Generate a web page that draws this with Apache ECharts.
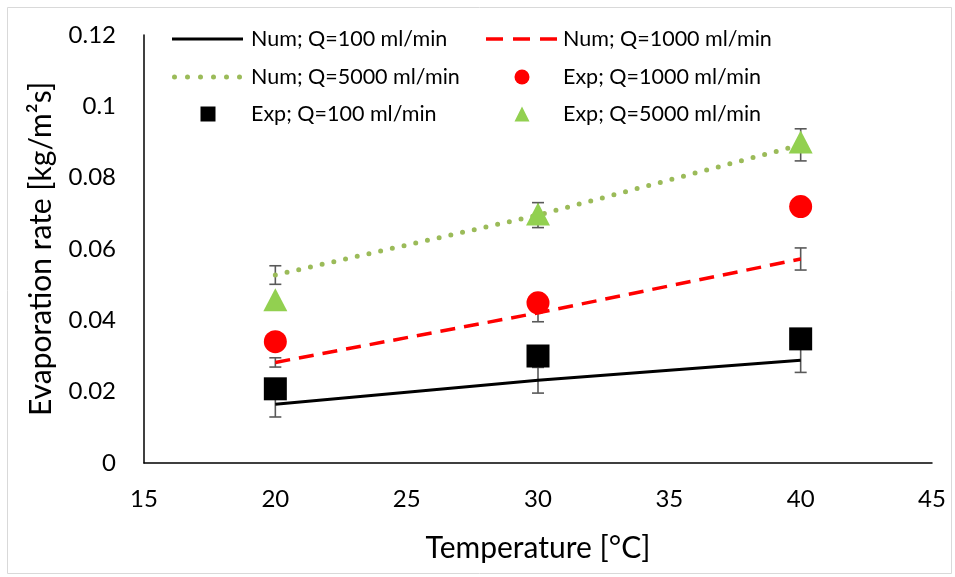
<!DOCTYPE html>
<html>
<head>
<meta charset="utf-8">
<script src="https://cdn.jsdelivr.net/npm/echarts@6/dist/echarts.min.js"></script>
<style>
  html, body { margin: 0; padding: 0; background: #fff; }
  #chart { width: 955px; height: 577px; }
</style>
</head>
<body>
<div id="chart"></div>
<script>
// Temperatures of the measurements [°C]
const temps = [20, 30, 40];

// Numerical evaporation rates [kg/m²s]
const numQ100 = [0.0165, 0.0232, 0.0288];
const numQ1000 = [0.0282, 0.0421, 0.0572];
const numQ5000 = [0.0527, 0.0695, 0.0892];

// Error half-widths shown on the numerical curves
const errQ100 = [0.0036, 0.0036, 0.0034];
const errQ1000 = [0.0013, 0.0025, 0.0031];
const errQ5000 = [0.0026, 0.0035, 0.0045];

// Experimental evaporation rates [kg/m²s]
const expQ100 = [0.0208, 0.0300, 0.0348];
const expQ1000 = [0.0340, 0.0449, 0.0719];
const expQ5000 = [0.0458, 0.0698, 0.0900];

// Axis ticks
const xTicks = [15, 20, 25, 30, 35, 40, 45];
const yTicks = [0, 0.02, 0.04, 0.06, 0.08, 0.1, 0.12];

const FONT = 'Lato';
const pairs = (ys) => temps.map((t, i) => [t, ys[i]]);
const bars = (ys, es) => temps.map((t, i) => [t, ys[i] - es[i], ys[i] + es[i]]);

function errorBarItem(params, api) {
  const x = api.value(0);
  const lo = api.coord([x, api.value(1)]);
  const hi = api.coord([x, api.value(2)]);
  const half = 6;
  const style = { stroke: '#595959', lineWidth: 1.6 };
  return {
    type: 'group',
    children: [
      { type: 'line', shape: { x1: lo[0], y1: lo[1], x2: hi[0], y2: hi[1] }, style },
      { type: 'line', shape: { x1: lo[0] - half, y1: lo[1], x2: lo[0] + half, y2: lo[1] }, style },
      { type: 'line', shape: { x1: hi[0] - half, y1: hi[1], x2: hi[0] + half, y2: hi[1] }, style }
    ]
  };
}

// Legend swatches: solid, dashed and dotted strokes as paths
const ICON_SOLID = 'path://M0,0H71V3H0Z';
const ICON_DASHED = 'path://M0,0h17v3.5h-17z M27,0h17v3.5h-17z M54,0h17v3.5h-17z';
const ICON_DOTTED = 'path://' + [0, 13, 26, 39, 52, 65]
  .map((x) => `M${x},2.5a2.5,2.5 0 1 0 5,0a2.5,2.5 0 1 0 -5,0`).join(' ');

const legendFont = { fontFamily: FONT, fontSize: 21.5, color: '#000' };
const rowMid = [38, 76, 113];
const colLeft = [172, 486];
const colText = [251, 563];
const ROW_OFFSET = 10;

function lineLegend(name, col, row, icon, color, h, w) {
  return {
    data: [{ name, icon, itemStyle: { color } }],
    left: colLeft[col], top: rowMid[row] - ROW_OFFSET, padding: 0,
    itemWidth: w, itemHeight: h, selectedMode: false,
    textStyle: Object.assign({ padding: [0, 0, 0, colText[col] - colLeft[col] - w - 5] }, legendFont)
  };
}
function markerLegend(name, col, row, icon, color, centerX) {
  const s = 15;
  const left = centerX - s / 2;
  return {
    data: [{ name, icon, itemStyle: { color } }],
    left, top: rowMid[row] - ROW_OFFSET, padding: 0,
    itemWidth: s, itemHeight: s, selectedMode: false,
    textStyle: Object.assign({ padding: [0, 0, 0, colText[col] - left - s - 5] }, legendFont)
  };
}

const option = {
  animation: false,
  backgroundColor: '#fff',
  graphic: [{
    type: 'rect', left: 5, top: 5, z: -1,
    shape: { width: 944, height: 566 },
    style: { fill: 'none', stroke: '#d9d9d9', lineWidth: 1 }
  }],
  grid: { left: 144, right: 23, top: 35, bottom: 114, containLabel: false },
  legend: [
    lineLegend('Num; Q=100 ml/min', 0, 0, ICON_SOLID, '#000', 3, 71),
    lineLegend('Num; Q=1000 ml/min', 1, 0, ICON_DASHED, '#ff0000', 3.5, 71),
    lineLegend('Num; Q=5000 ml/min', 0, 1, ICON_DOTTED, '#9bbb59', 5, 70),
    markerLegend('Exp; Q=1000 ml/min', 1, 1, 'circle', '#ff0000', 522),
    markerLegend('Exp; Q=100 ml/min', 0, 2, 'rect', '#000', 208),
    markerLegend('Exp; Q=5000 ml/min', 1, 2, 'triangle', '#92d050', 522)
  ],
  xAxis: {
    type: 'value', min: xTicks[0], max: xTicks[xTicks.length - 1], interval: 5,
    name: 'Temperature [°C]', nameLocation: 'middle', nameGap: 70,
    nameTextStyle: { fontFamily: FONT, fontSize: 30, color: '#000' },
    axisLine: { show: true, lineStyle: { color: '#000', width: 1.5 } },
    axisTick: { show: false },
    splitLine: { show: false },
    axisLabel: { fontFamily: FONT, fontSize: 24, color: '#000', margin: 24 }
  },
  yAxis: {
    type: 'value', min: yTicks[0], max: yTicks[yTicks.length - 1], interval: 0.02,
    name: 'Evaporation rate [kg/m²s]', nameLocation: 'middle', nameGap: 88,
    nameTextStyle: { fontFamily: FONT, fontSize: 30, color: '#000' },
    axisLine: { show: true, lineStyle: { color: '#000', width: 1.5 } },
    axisTick: { show: false },
    splitLine: { show: false },
    axisLabel: { fontFamily: FONT, fontSize: 24, color: '#000', margin: 28 }
  },
  series: [
    {
      name: 'Num; Q=100 ml/min', type: 'line', data: pairs(numQ100), symbol: 'none', z: 3,
      lineStyle: { color: '#000', width: 3 }, itemStyle: { color: '#000' }
    },
    {
      name: 'Num; Q=1000 ml/min', type: 'line', data: pairs(numQ1000), symbol: 'none', z: 3,
      lineStyle: { color: '#ff0000', width: 3.5, type: [15, 9] }, itemStyle: { color: '#ff0000' }
    },
    {
      name: 'Num; Q=5000 ml/min', type: 'line', data: pairs(numQ5000), symbol: 'none', z: 3,
      lineStyle: { color: '#9bbb59', width: 5, type: [0, 12], cap: 'round' }, itemStyle: { color: '#9bbb59' }
    },
    { type: 'custom', renderItem: errorBarItem, data: bars(numQ100, errQ100), z: 2, silent: true },
    { type: 'custom', renderItem: errorBarItem, data: bars(numQ1000, errQ1000), z: 2, silent: true },
    { type: 'custom', renderItem: errorBarItem, data: bars(numQ5000, errQ5000), z: 2, silent: true },
    {
      name: 'Exp; Q=1000 ml/min', type: 'scatter', data: pairs(expQ1000), z: 4,
      symbol: 'circle', symbolSize: 23, itemStyle: { color: '#ff0000', opacity: 1 }
    },
    {
      name: 'Exp; Q=100 ml/min', type: 'scatter', data: pairs(expQ100), z: 4,
      symbol: 'rect', symbolSize: 23, itemStyle: { color: '#000', opacity: 1 }
    },
    {
      name: 'Exp; Q=5000 ml/min', type: 'scatter', data: pairs(expQ5000), z: 4,
      symbol: 'triangle', symbolSize: [24, 23], itemStyle: { color: '#92d050', opacity: 1 }
    }
  ]
};

const chart = echarts.init(document.getElementById('chart'), null, { renderer: 'canvas' });
chart.setOption(option);
</script>
</body>
</html>
